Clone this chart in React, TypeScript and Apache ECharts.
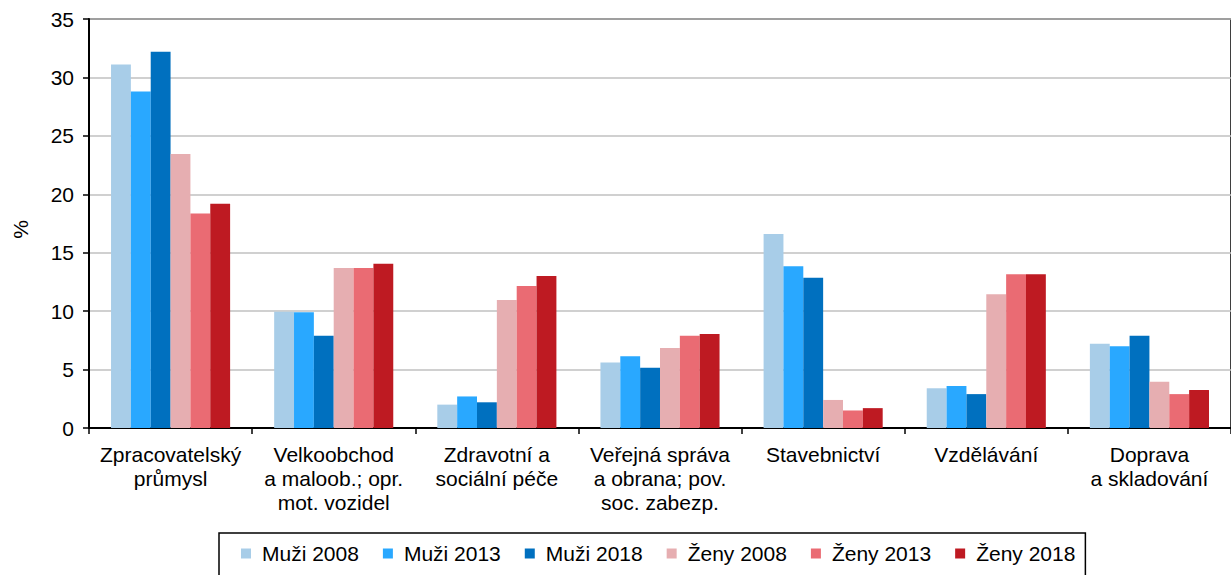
import React, { useEffect, useRef } from "react";
import * as echarts from "echarts";

const categories = [
  "Zpracovatelský\nprůmysl",
  "Velkoobchod\na maloob.; opr.\nmot. vozidel",
  "Zdravotní a\nsociální péče",
  "Veřejná správa\na obrana; pov.\nsoc. zabezp.",
  "Stavebnictví",
  "Vzdělávání",
  "Doprava\na skladování",
];

const seriesNames = ["Muži 2008", "Muži 2013", "Muži 2018", "Ženy 2008", "Ženy 2013", "Ženy 2018"];
const colors = ["#a8cde8", "#29a8ff", "#0070bf", "#e6aeb1", "#ea6b73", "#be1a22"];

const muzi2008 = [31.1, 9.95, 2.0, 5.6, 16.6, 3.4, 7.2];
const muzi2013 = [28.8, 9.9, 2.7, 6.15, 13.85, 3.6, 7.0];
const muzi2018 = [32.2, 7.9, 2.2, 5.15, 12.85, 2.9, 7.9];
const zeny2008 = [23.45, 13.7, 10.95, 6.85, 2.4, 11.45, 3.95];
const zeny2013 = [18.35, 13.7, 12.15, 7.9, 1.5, 13.15, 2.9];
const zeny2018 = [19.2, 14.05, 13.0, 8.05, 1.7, 13.15, 3.25];

const values = [muzi2008, muzi2013, muzi2018, zeny2008, zeny2013, zeny2018];
const yTicks = { min: 0, max: 35, interval: 5 };

const FONT = "'Liberation Sans', Arial, Helvetica, sans-serif";

export default function App() {
  const ref = useRef<HTMLDivElement>(null);
  useEffect(() => {
    if (!ref.current) return;
    const chart = echarts.init(ref.current, undefined, { renderer: "svg" });
    chart.setOption({
      animation: false,
      textStyle: { fontFamily: FONT },
      grid: {
        left: 89,
        top: 19,
        right: -9,
        bottom: 147,
        show: true,
        borderColor: "#000",
        borderWidth: 1.5,
        backgroundColor: "transparent",
      },
      legend: {
        left: 219,
        top: 533,
        itemWidth: 10,
        itemHeight: 10,
        icon: "rect",
        itemGap: 24,
        padding: [10, 10, 12, 22],
        borderColor: "#000",
        borderWidth: 1.5,
        textStyle: { fontSize: 21, color: "#000", fontFamily: FONT, padding: [0, 0, 0, 6] },
        data: seriesNames,
      },
      xAxis: {
        type: "category",
        data: categories,
        axisLine: { lineStyle: { color: "#000", width: 2 } },
        axisTick: { show: true, length: 6, lineStyle: { color: "#000", width: 1.5 } },
        axisLabel: {
          interval: 0,
          fontSize: 21,
          color: "#000",
          lineHeight: 24,
          margin: 14,
          fontFamily: FONT,
        },
      },
      yAxis: {
        type: "value",
        min: yTicks.min,
        max: yTicks.max,
        interval: yTicks.interval,
        name: "%",
        nameLocation: "middle",
        nameGap: 58,
        nameTextStyle: { fontSize: 21, color: "#000", fontFamily: FONT, padding: [0, 12, 0, 0] },
        axisLine: { show: true, lineStyle: { color: "#000", width: 2 } },
        axisTick: { show: true, length: 6, lineStyle: { color: "#000", width: 1.5 } },
        axisLabel: { fontSize: 21, color: "#000", margin: 15, fontFamily: FONT },
        splitLine: { lineStyle: { color: "#c0c0c0", width: 1.5 } },
      },
      series: seriesNames.map((name, i) => ({
        name,
        type: "bar",
        data: values[i],
        barGap: "0%",
        barCategoryGap: "27%",
        itemStyle: { color: colors[i] },
      })),
    });
    return () => chart.dispose();
  }, []);
  return (
    <div
      ref={ref}
      style={{ position: "absolute", left: 0, top: 0, width: 1231, height: 575, background: "#fff" }}
    />
  );
}
